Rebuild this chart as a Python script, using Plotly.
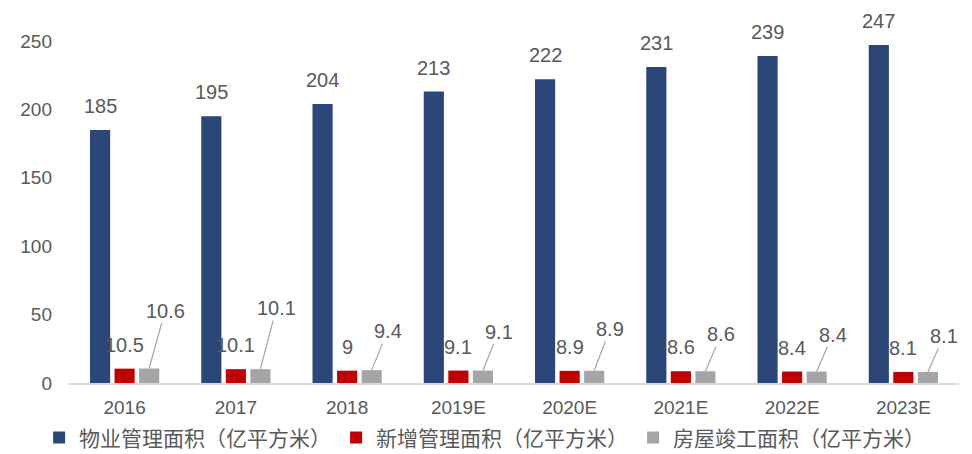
import plotly.graph_objects as go

years = ["2016", "2017", "2018", "2019E", "2020E", "2021E", "2022E", "2023E"]
managed_area = [185, 195, 204, 213, 222, 231, 239, 247]
new_area = [10.5, 10.1, 9, 9.1, 8.9, 8.6, 8.4, 8.1]
completed_area = [10.6, 10.1, 9.4, 9.1, 8.9, 8.6, 8.4, 8.1]

series_names = ["物业管理面积（亿平方米）", "新增管理面积（亿平方米）", "房屋竣工面积（亿平方米）"]
colors = ["#2b4678", "#c00000", "#a5a5a5"]

# label lift for the grey callouts (pixels above bar top)
grey_lift = [58, 61, 39, 39, 42, 37, 37, 36]

TEXT = "#595959"
FONT = "Liberation Sans, Arial, Noto Sans CJK SC, sans-serif"
SLOT = 24.5  # pixel distance between neighbouring bars in a group

fig = go.Figure()
for name, vals, col in zip(series_names, [managed_area, new_area, completed_area], colors):
    fig.add_trace(go.Bar(x=years, y=vals, name=name, marker=dict(color=col, line=dict(width=0))))

# category axes read numeric-looking strings as indices, so place labels by index
annotations = []
for i, yr in enumerate(years):
    annotations.append(dict(
        x=i, y=managed_area[i], text=str(managed_area[i]), xref="x", yref="y",
        xshift=-SLOT, yshift=11, yanchor="bottom", showarrow=False,
        font=dict(size=20, color=TEXT),
    ))
    annotations.append(dict(
        x=i, y=new_area[i], text=f"{new_area[i]:g}", xref="x", yref="y",
        yshift=11, yanchor="bottom", showarrow=False,
        font=dict(size=20, color=TEXT),
    ))
    annotations.append(dict(
        x=i, y=completed_area[i], text=f"{completed_area[i]:g}", xref="x", yref="y",
        xshift=SLOT, showarrow=True, arrowhead=0, arrowwidth=1.2, arrowcolor="#a6a6a6",
        ax=16, ay=-grey_lift[i], standoff=0,
        font=dict(size=20, color=TEXT),
    ))

# the page body adds an 8px offset, so margins are shifted to compensate
fig.update_layout(
    width=972, height=454,
    barmode="group", bargap=0.338, bargroupgap=0.18,
    plot_bgcolor="white", paper_bgcolor="white",
    font=dict(family=FONT, color=TEXT, size=19),
    margin=dict(l=61, r=21, t=33, b=79, autoexpand=False),
    xaxis=dict(
        type="category", range=[-0.5, len(years) - 0.5],
        showline=True, linecolor="#d9d9d9", linewidth=2, showgrid=False,
        ticks="", tickfont=dict(size=19, color=TEXT), ticklabelstandoff=6,
    ),
    yaxis=dict(
        range=[0, 250], tickvals=[0, 50, 100, 150, 200, 250], showgrid=False,
        zeroline=False, showline=False, ticks="", tickfont=dict(size=19, color=TEXT),
        ticklabelstandoff=16,
    ),
    legend=dict(
        orientation="h", xref="container", yref="container", x=0.032, xanchor="left",
        y=0.053, yanchor="middle", font=dict(size=21, color=TEXT),
        itemwidth=30, tracegroupgap=0,
    ),
    annotations=annotations,
    showlegend=True,
)

fig.write_html("out.html")
